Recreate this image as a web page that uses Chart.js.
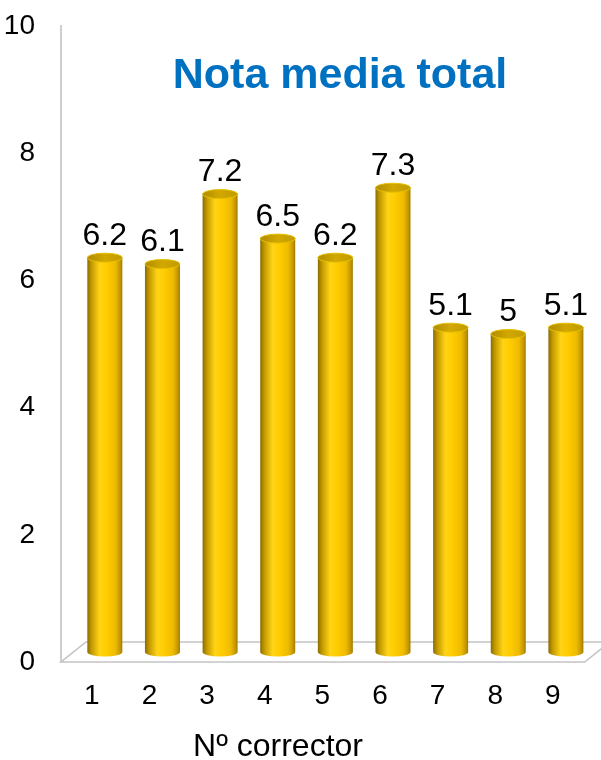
<!DOCTYPE html>
<html>
<head>
<meta charset="utf-8">
<script src="https://cdn.jsdelivr.net/npm/chart.js@4.4.0/dist/chart.umd.min.js"></script>
<style>
  html, body { margin: 0; padding: 0; background: #fff; }
  #wrap { width: 601px; height: 760px; }
</style>
</head>
<body>
<div id="wrap"><canvas id="notaChart"></canvas></div>
<script>
const correctores = ["1", "2", "3", "4", "5", "6", "7", "8", "9"];
const notas = [6.2, 6.1, 7.2, 6.5, 6.2, 7.3, 5.1, 5, 5.1];
const yTicks = [0, 2, 4, 6, 8, 10];
const titulo = "Nota media total";
const tituloEjeX = "Nº corrector";

const FONT = "Arial, 'Liberation Sans', sans-serif";
Chart.defaults.font.family = FONT;

// floor in fake 3D: front edge below zero, back edge above it
const floorDepth = { dx: 25, dy: 20 };

function cylinderGradient(ctx, x, rx) {
  const g = ctx.createLinearGradient(x - rx, 0, x + rx, 0);
  g.addColorStop(0, "#8a6c00");
  g.addColorStop(0.12, "#c29a00");
  g.addColorStop(0.35, "#ffd316");
  g.addColorStop(0.55, "#ffcc00");
  g.addColorStop(0.8, "#efbb00");
  g.addColorStop(0.94, "#c39600");
  g.addColorStop(1, "#9c7a00");
  return g;
}

const cylinders = {
  id: "cylinders",
  beforeDatasetsDraw(chart) {
    const { ctx, chartArea: a, scales: { y } } = chart;
    const zero = y.getPixelForValue(0);
    const fl = a.left - 15, fr = a.right - 10, fy = zero + floorDepth.dy / 2;
    const by = fy - floorDepth.dy;
    ctx.save();
    ctx.strokeStyle = "#c3c3c3";
    ctx.lineWidth = 1.6;
    // value axis wall line
    ctx.beginPath();
    ctx.moveTo(fl, y.getPixelForValue(yTicks[yTicks.length - 1]) + 9);
    ctx.lineTo(fl, fy);
    ctx.stroke();
    // floor
    ctx.beginPath();
    ctx.moveTo(fl, fy);
    ctx.lineTo(fr, fy);
    ctx.lineTo(fr + floorDepth.dx, by);
    ctx.lineTo(fl + floorDepth.dx, by);
    ctx.closePath();
    ctx.stroke();
    ctx.restore();
  },
  afterDatasetsDraw(chart) {
    const { ctx } = chart;
    const meta = chart.getDatasetMeta(0);
    ctx.save();
    meta.data.forEach((bar, i) => {
      const rx = bar.width / 2, ry = 4.5;
      const x = bar.x, top = bar.y, base = bar.base;
      // body
      ctx.beginPath();
      ctx.moveTo(x - rx, top);
      ctx.lineTo(x - rx, base);
      ctx.ellipse(x, base, rx, ry, 0, Math.PI, 0, true);
      ctx.lineTo(x + rx, top);
      ctx.closePath();
      ctx.fillStyle = cylinderGradient(ctx, x, rx);
      ctx.fill();
      // cap
      const cap = ctx.createLinearGradient(x - rx, 0, x + rx, 0);
      cap.addColorStop(0, "#b08c00");
      cap.addColorStop(0.5, "#d2a800");
      cap.addColorStop(1, "#c09a00");
      ctx.beginPath();
      ctx.ellipse(x, top, rx, ry, 0, 0, Math.PI * 2);
      ctx.fillStyle = cap;
      ctx.fill();
      ctx.strokeStyle = "#e6c000";
      ctx.lineWidth = 1;
      ctx.stroke();
      // value label
      ctx.fillStyle = "#000";
      ctx.font = "32px " + FONT;
      ctx.textAlign = "center";
      ctx.textBaseline = "alphabetic";
      ctx.fillText(String(notas[i]), x, top - 13);
    });
    ctx.restore();
  },
  afterDraw(chart) {
    const { ctx, chartArea: a } = chart;
    ctx.save();
    ctx.textAlign = "center";
    ctx.textBaseline = "middle";
    ctx.fillStyle = "#0070c0";
    ctx.font = "bold 43px " + FONT;
    ctx.fillText(titulo, a.left + 264, a.top + 60);
    ctx.fillStyle = "#000";
    ctx.textBaseline = "alphabetic";
    ctx.font = "32px " + FONT;
    ctx.fillText(tituloEjeX, a.left + 202, a.bottom + 104);
    ctx.restore();
  }
};

new Chart(document.getElementById("notaChart"), {
  type: "bar",
  data: {
    labels: correctores,
    datasets: [{
      label: titulo,
      data: notas,
      barThickness: 35,
      backgroundColor: "rgba(0,0,0,0)",
      borderWidth: 0
    }]
  },
  options: {
    responsive: true,
    maintainAspectRatio: false,
    animation: false,
    layout: { padding: { top: 16, right: 6, left: 0, bottom: 0 } },
    plugins: {
      legend: { display: false },
      tooltip: { enabled: false },
      title: { display: false }
    },
    scales: {
      x: {
        grid: { display: false, drawTicks: false },
        border: { display: false },
        ticks: { color: "#000", font: { size: 28 }, padding: 27, labelOffset: -13 },
        afterFit(scale) { scale.height = 108; }
      },
      y: {
        min: 0,
        max: 10,
        grid: { display: false, drawTicks: false },
        border: { display: false },
        afterBuildTicks(scale) { scale.ticks = yTicks.map(v => ({ value: v })); },
        ticks: { color: "#000", font: { size: 28 }, padding: 41, labelOffset: 10 },
        afterFit(scale) {
          scale.width = 76;
          // the wide label gap shouldn't push the plot area down
          scale.paddingTop = 0;
          scale.paddingBottom = 0;
        }
      }
    }
  },
  plugins: [cylinders]
});
</script>
</body>
</html>
